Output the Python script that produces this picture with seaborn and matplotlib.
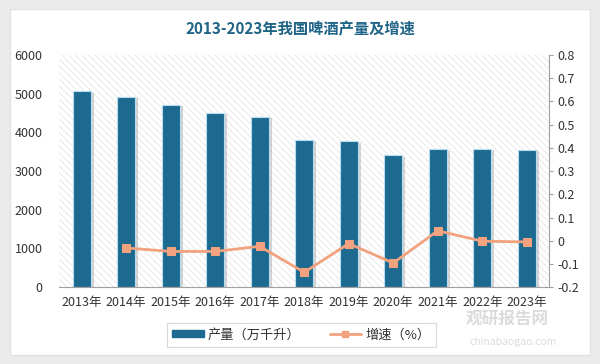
import numpy as np
import pandas as pd
import matplotlib
matplotlib.use("Agg")
import matplotlib.pyplot as plt
import matplotlib.patheffects as pe
from matplotlib.patches import Rectangle
from matplotlib.lines import Line2D
import seaborn as sns

# === data ===
years = ["2013年", "2014年", "2015年", "2016年", "2017年", "2018年",
         "2019年", "2020年", "2021年", "2022年", "2023年"]
output = [5061.5, 4921.9, 4715.7, 4506.4, 4401.5, 3812.2,
          3765.3, 3411.1, 3562.4, 3568.7, 3555.5]
growth = [np.nan, -0.031, -0.046, -0.046, -0.024, -0.136,
          -0.012, -0.096, 0.043, -0.002, -0.005]

df = pd.DataFrame({"year": years, "output": output, "growth": growth})
df["pos"] = np.arange(len(df))

sns.set_style("white")
plt.rcParams['font.family'] = ['Noto Sans CJK SC', 'DejaVu Sans']
plt.rcParams['hatch.color'] = '#e0e0e0'
plt.rcParams['hatch.linewidth'] = 0.5

bar_color = "#1d6a90"
line_color = "#f2a27e"
text_color = "#333333"

fig = plt.figure(figsize=(6, 3.64), dpi=100)
fig.patch.set_facecolor("#ebebeb")

# white card behind everything
bg = fig.add_axes([0, 0, 1, 1], zorder=-10)
bg.set_axis_off()
bg.set_xlim(0, 1)
bg.set_ylim(0, 1)
bg.add_patch(Rectangle((0.017, 0.025), 0.966, 0.95, facecolor="white",
                       edgecolor="#e2e2e2", linewidth=1,
                       path_effects=[pe.SimplePatchShadow(offset=(1, -1), alpha=0.15),
                                     pe.Normal()]))

ax = fig.add_axes([0.099, 0.211, 0.816, 0.638])
ax.set_facecolor("none")

# hatched plot background
ax.add_patch(Rectangle((0, 0), 1, 1, transform=ax.transAxes, facecolor="white",
                       edgecolor="#e0e0e0", hatch="\\\\\\\\\\", linewidth=0, zorder=0))

sns.barplot(data=df, x="year", y="output", color=bar_color, width=0.41,
            saturation=1, ax=ax, zorder=2)
for p in ax.patches[1:]:
    p.set_edgecolor("#b5dcf0")
    p.set_linewidth(0.8)
    p.set_path_effects([pe.SimplePatchShadow(offset=(2, -1), shadow_rgbFace="#888888", alpha=0.35),
                        pe.Normal()])

ax.set_xlim(-0.5, len(years) - 0.5)
ax.set_ylim(0, 6000)
ax.set_yticks(range(0, 6001, 1000))
ax.set_xlabel("")
ax.set_ylabel("")
for s in ["left", "top", "right"]:
    ax.spines[s].set_visible(False)
ax.spines["bottom"].set_color("#a0a0a0")
ax.tick_params(axis="both", length=0, labelsize=9, colors=text_color, pad=6)
ax.tick_params(axis="y", pad=12)

ax2 = ax.twinx()
sns.lineplot(data=df.dropna(), x="pos", y="growth", color=line_color, linewidth=2,
             marker="s", markersize=6, markeredgecolor=line_color, ax=ax2, zorder=3)
ax2.set_ylim(-0.2, 0.8)
ticks2 = np.round(np.arange(-0.2, 0.81, 0.1), 1)
ax2.set_yticks(ticks2)
ax2.set_yticklabels(["%g" % v for v in ticks2])
ax2.set_xlim(-0.5, len(years) - 0.5)
ax2.set_xlabel("")
ax2.set_ylabel("")
for s in ["left", "top", "bottom"]:
    ax2.spines[s].set_visible(False)
ax2.spines["right"].set_color("#a0a0a0")
ax2.tick_params(axis="y", length=3, color="#a0a0a0", labelsize=9, labelcolor=text_color, pad=3)

fig.text(0.5, 0.92, "2013-2023年我国啤酒产量及增速", ha="center", va="center",
         fontsize=11, fontweight="bold", color="#1f6386")

handles = [Rectangle((0, 0), 1, 1, facecolor=bar_color, edgecolor=bar_color),
           Line2D([0], [0], color=line_color, linewidth=2, marker="s", markersize=5)]
leg = fig.legend(handles, ["产量（万千升）", "增速（%）"], loc="center",
                 bbox_to_anchor=(0.502, 0.08), ncol=2, frameon=True, fontsize=9.5,
                 handlelength=2.4, handleheight=0.5, handletextpad=0.3,
                 columnspacing=2.2, borderpad=0.4, borderaxespad=0, fancybox=False)
leg.get_frame().set_edgecolor("#d0d0d0")
leg.get_frame().set_linewidth(0.8)
for t in leg.get_texts():
    t.set_color(text_color)

# faint watermark
fig.text(0.845, 0.125, "观研报告网", ha="center", va="center", fontsize=12,
         fontweight="bold", color="#9a9a9a", alpha=0.35)
fig.text(0.855, 0.06, "chinabaogao.com", ha="center", va="center", fontsize=7.5,
         color="#9a9a9a", alpha=0.35)

fig.savefig("out.png", dpi=100, facecolor=fig.get_facecolor())
